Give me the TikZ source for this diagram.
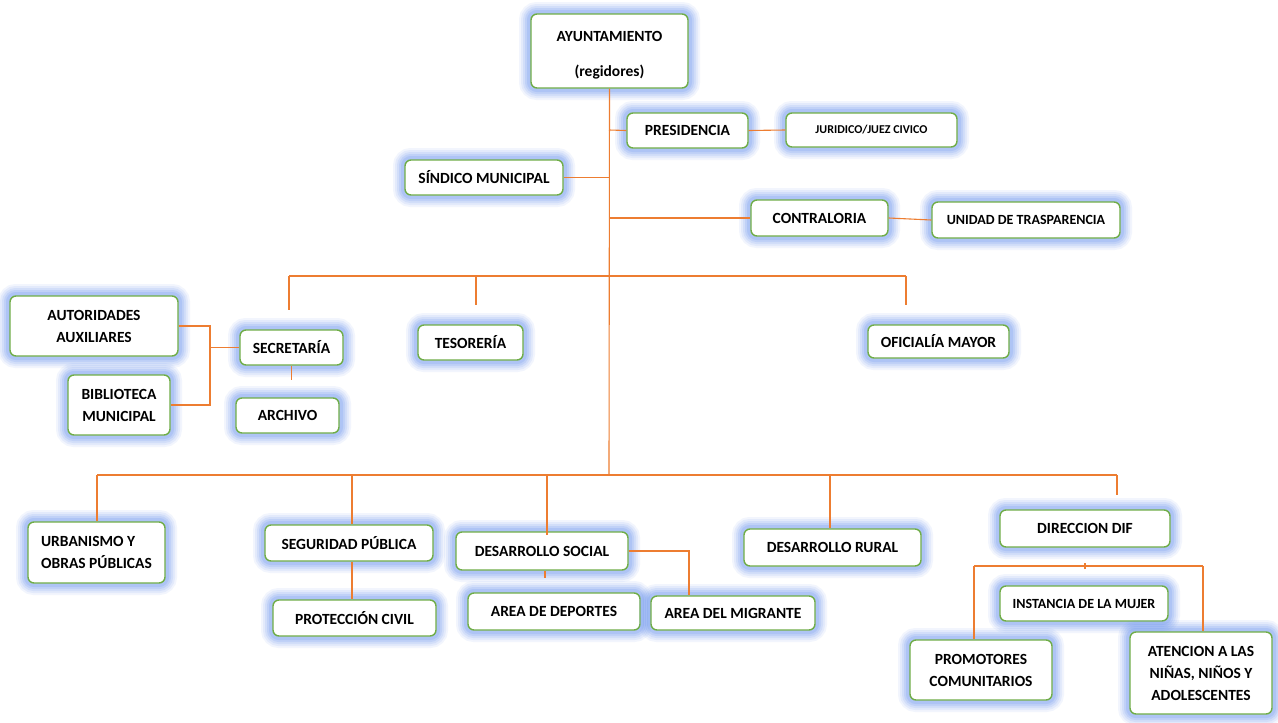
\documentclass[tikz,border=0pt]{standalone}
\usepackage{fontspec}
\setmainfont{Carlito}
\definecolor{edgec}{HTML}{ED7D31}
\definecolor{bgreen}{HTML}{70AD47}
\definecolor{glowc}{RGB}{95,140,238}
\begin{document}
\begin{tikzpicture}[x=1pt,y=-1pt,
 box/.style={draw=bgreen, line width=1.4pt, rounded corners=6pt, fill=white,
   font=\bfseries\fontsize{15.5}{22}\selectfont, align=center, inner sep=2pt,
   preaction={draw=glowc, line width=24pt, opacity=0.08},
   preaction={draw=glowc, line width=20pt, opacity=0.10},
   preaction={draw=glowc, line width=16pt, opacity=0.12},
   preaction={draw=glowc, line width=12pt, opacity=0.15},
   preaction={draw=glowc, line width=8pt, opacity=0.18}},
 conn/.style={draw=edgec, line width=1.1pt}]
\useasboundingbox[fill=white] (0,0) rectangle (1278,723);

% nodes
\node[box, minimum width=157pt, minimum height=74pt, font=\bfseries\fontsize{15.5}{19}\selectfont] (ayun) at (609.5,51) {\rule{0pt}{18pt}AYUNTAMIENTO\\[16pt](regidores)};
\node[box, minimum width=121pt, minimum height=35pt] (pres) at (687.5,130.5) {PRESIDENCIA};
\node[box, minimum width=171pt, minimum height=34pt, font=\bfseries\fontsize{12}{14}\selectfont] (jur) at (871.5,130) {JURIDICO/JUEZ CIVICO};
\node[box, minimum width=158pt, minimum height=35pt] (sind) at (484,177.5) {SÍNDICO MUNICIPAL};
\node[box, minimum width=137pt, minimum height=36pt] (contr) at (819.5,218) {CONTRALORIA};
\node[box, minimum width=188pt, minimum height=36pt, font=\bfseries\fontsize{14}{16}\selectfont] (unid) at (1026,220) {UNIDAD DE TRASPARENCIA};
\node[box, minimum width=168pt, minimum height=60pt] (auto) at (94,326) {AUTORIDADES\\AUXILIARES};
\node[box, minimum width=103pt, minimum height=35pt] (secr) at (291.5,347.5) {SECRETARÍA};
\node[box, minimum width=105pt, minimum height=35pt] (teso) at (470.5,342.5) {TESORERÍA};
\node[box, minimum width=141pt, minimum height=33pt] (ofic) at (938.5,341.5) {OFICIALÍA MAYOR};
\node[box, minimum width=102pt, minimum height=60pt] (bibl) at (119,405) {BIBLIOTECA\\MUNICIPAL};
\node[box, minimum width=103pt, minimum height=35pt] (arch) at (287.5,415.5) {ARCHIVO};
\node[box, minimum width=137pt, minimum height=61pt, align=left] (urb) at (96.5,552.5) {URBANISMO Y\\OBRAS PÚBLICAS};
\node[box, minimum width=168pt, minimum height=36pt] (seg) at (349,543) {SEGURIDAD PÚBLICA};
\node[box, minimum width=163pt, minimum height=36pt] (prot) at (354.5,618) {PROTECCIÓN CIVIL};
\node[box, minimum width=172pt, minimum height=38pt] (dsoc) at (542,551) {DESARROLLO SOCIAL};
\node[box, minimum width=172pt, minimum height=37pt] (dep) at (554,611.5) {AREA DE DEPORTES};
\node[box, minimum width=164pt, minimum height=34pt] (migr) at (733,613) {AREA DEL MIGRANTE};
\node[box, minimum width=177pt, minimum height=37pt] (drur) at (832.5,547.5) {DESARROLLO RURAL};
\node[box, minimum width=170pt, minimum height=37pt] (dif) at (1085,528.5) {DIRECCION DIF};
\node[box, minimum width=168pt, minimum height=35pt, font=\bfseries\fontsize{14}{16}\selectfont] (muj) at (1084,603.5) {INSTANCIA DE LA MUJER};
\node[box, minimum width=142pt, minimum height=60pt] (prom) at (981,670) {PROMOTORES\\COMUNITARIOS};
\node[box, minimum width=142pt, minimum height=82pt] (aten) at (1201,673) {ATENCION A LAS\\NIÑAS, NIÑOS Y\\ADOLESCENTES};

% coordinates
\coordinate (tP) at (609,130);
\coordinate (tS) at (609,177.5);
\coordinate (tC) at (609,218);
\coordinate (b1L) at (289,276);
\coordinate (b1T) at (476,276);
\coordinate (b1R) at (906,276);
\coordinate (d1L) at (289,310);
\coordinate (d1T) at (476,305);
\coordinate (d1R) at (906,305);
\coordinate (jA) at (210,326);
\coordinate (jB) at (210,405);
\coordinate (jS) at (210,347.5);
\coordinate (sA) at (291.5,380);
\coordinate (b2) at (609,475);
\coordinate (b2L) at (97,475);
\coordinate (b2R) at (1117,475);
\coordinate (b2S) at (352,475);
\coordinate (b2D) at (547,475);
\coordinate (b2U) at (830,475);
\coordinate (d2D) at (547,535);
\coordinate (d2R) at (1117,495);
\coordinate (dA) at (545,578);
\coordinate (mA) at (689,551);
\coordinate (fL) at (974,566);
\coordinate (fR) at (1203,566);
\coordinate (fM) at (1085,566);

% connectors
\draw[conn] (ayun.south) -- (b2);
\draw[conn] (tP) -- (pres.west);
\draw[conn] (pres.east) -- (jur.west);
\draw[conn] (sind.east) -- (tS);
\draw[conn] (tC) -- (contr.west);
\draw[conn] (contr.east) -- (unid.west);
\draw[conn] (b1L) -- (b1R);
\draw[conn] (b1L) -- (d1L);
\draw[conn] (b1T) -- (d1T);
\draw[conn] (b1R) -- (d1R);
\draw[conn] (auto.east) -- (jA) -- (jB) -- (bibl.east);
\draw[conn] (jS) -- (secr.west);
\draw[conn] (secr.south) -- (sA);
\draw[conn] (b2L) -- (b2R);
\draw[conn] (b2L) -- (urb.north -| b2L);
\draw[conn] (b2S) -- (seg.north -| b2S);
\draw[conn] (b2D) -- (d2D);
\draw[conn] (b2U) -- (drur.north -| b2U);
\draw[conn] (b2R) -- (d2R);
\draw[conn] (seg.south -| b2S) -- (prot.north -| b2S);
\draw[conn] (dsoc.south -| dA) -- (dA);
\draw[conn] (dsoc.east) -- (mA) -- (migr.north -| mA);
\draw[conn] (fL) -- (fR);
\draw[conn] (fL) -- (prom.north -| fL);
\draw[conn] (fR) -- (aten.north -| fR);
\draw[conn] ([yshift=-3pt]fM) -- ([yshift=3pt]fM);
\end{tikzpicture}
\end{document}
